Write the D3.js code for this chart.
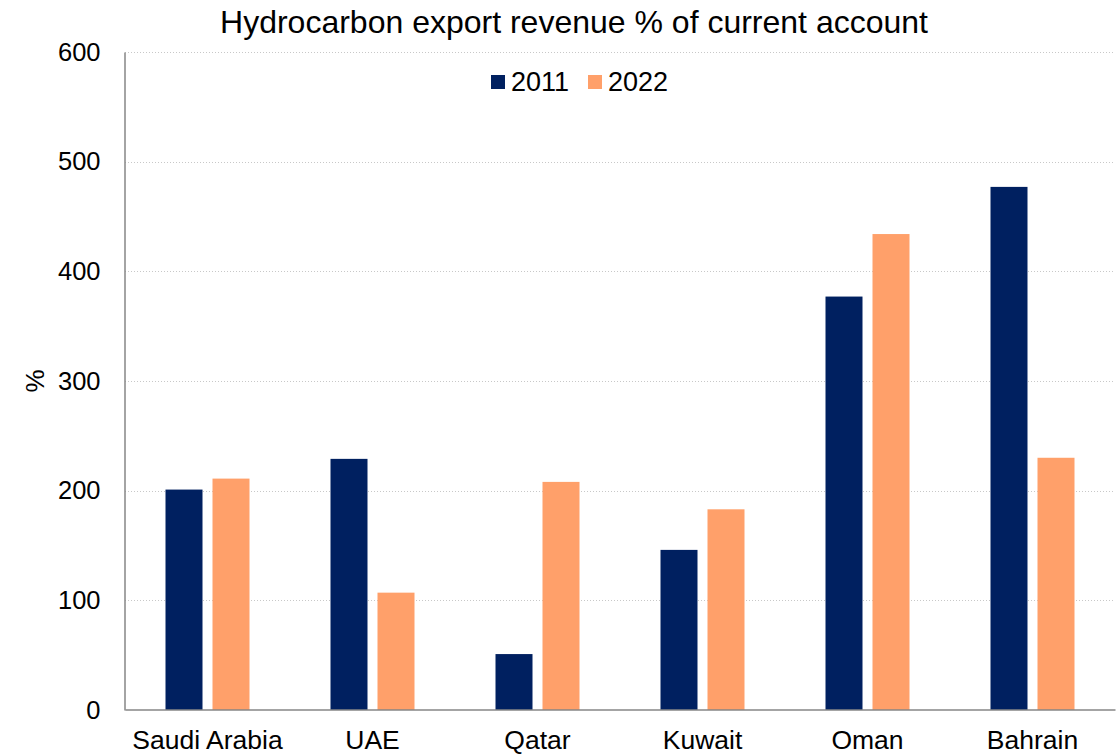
<!DOCTYPE html>
<html>
<head>
<meta charset="utf-8">
<script src="https://cdn.jsdelivr.net/npm/d3@7"></script>
<style>
  body { margin: 0; background: #fff; }
  svg { font-family: "Liberation Sans", Arial, sans-serif; }
</style>
</head>
<body>
<script>
const categories = ["Saudi Arabia", "UAE", "Qatar", "Kuwait", "Oman", "Bahrain"];
const seriesNames = ["2011", "2022"];
const values2011 = [201, 229, 51, 146, 377, 477];
const values2022 = [211, 107, 208, 183, 434, 230];
const yTicks = [0, 100, 200, 300, 400, 500, 600];
const colors = ["#002060", "#ffa06a"];

const width = 1119;
const height = 754;
const margin = { left: 125, right: 4, top: 52, bottom: 44 };

const svg = d3.select("body").append("svg").attr("width", width).attr("height", height);

// x: categories, then the two years inside each band
const xScale = d3.scaleBand()
  .domain(categories)
  .range([margin.left, width - margin.right]);

const yScale = d3.scaleLinear()
  .domain([0, 600])
  .range([height - margin.bottom, margin.top]);

const barWidth = 37;
const barGap = 10;
const xInner = d3.scaleOrdinal()
  .domain(seriesNames)
  .range([-barGap / 2 - barWidth, barGap / 2]);

// gridlines (dotted)
svg.append("g")
  .selectAll("line")
  .data(yTicks.filter(d => d > 0))
  .enter()
  .append("line")
  .attr("x1", margin.left)
  .attr("x2", width - margin.right)
  .attr("y1", d => Math.round(yScale(d)) + 0.5)
  .attr("y2", d => Math.round(yScale(d)) + 0.5)
  .attr("stroke", "#c8c8c8")
  .attr("stroke-dasharray", "1,2");

// bars
const rows = categories.map((c, i) => ({ cat: c, vals: [values2011[i], values2022[i]] }));
const groups = svg.append("g").selectAll("g")
  .data(rows)
  .enter()
  .append("g")
  .attr("transform", d => "translate(" + (xScale(d.cat) + xScale.bandwidth() / 2) + ",0)");

groups.selectAll("rect")
  .data(d => d.vals.map((v, k) => ({ key: seriesNames[k], v: v, k: k })))
  .enter()
  .append("rect")
  .attr("x", d => xInner(d.key))
  .attr("width", barWidth)
  .attr("y", d => yScale(d.v))
  .attr("height", d => yScale(0) - yScale(d.v))
  .attr("fill", d => colors[d.k]);

// y axis
const axisy = d3.axisLeft(yScale).tickValues(yTicks).tickSize(0).tickPadding(24);
const gy = svg.append("g")
  .attr("transform", "translate(" + (margin.left - 0.5) + ",0)")
  .call(axisy);
gy.select(".domain").attr("stroke", "#868686").attr("stroke-width", 1.5);
gy.selectAll("text").attr("font-size", 25.5).attr("fill", "#000").attr("font-family", "Liberation Sans, Arial, sans-serif");

// x axis
const axisx = d3.axisBottom(xScale).tickSize(0).tickPadding(21);
const gx = svg.append("g")
  .attr("transform", "translate(0," + (yScale(0) - 0.5) + ")")
  .call(axisx);
gx.select(".domain").attr("stroke", "#868686").attr("stroke-width", 1.5);
gx.selectAll("text").attr("font-size", 26.5).attr("fill", "#000").attr("font-family", "Liberation Sans, Arial, sans-serif");

// y label
svg.append("text")
  .attr("transform", "translate(44,381) rotate(-90)")
  .attr("text-anchor", "middle")
  .attr("font-size", 26)
  .text("%");

// title
svg.append("text")
  .attr("x", 574)
  .attr("y", 33)
  .attr("text-anchor", "middle")
  .attr("font-size", 32)
  .text("Hydrocarbon export revenue % of current account");

// legend
const legend = svg.append("g").attr("transform", "translate(491,75)");
const legendItems = legend.selectAll("g")
  .data(seriesNames)
  .enter()
  .append("g")
  .attr("transform", (d, i) => "translate(" + (i * 97) + ",0)");
legendItems.append("rect")
  .attr("width", 14)
  .attr("height", 14)
  .attr("fill", (d, i) => colors[i]);
legendItems.append("text")
  .attr("x", 20)
  .attr("y", 16)
  .attr("font-size", 27)
  .text(d => d);
</script>
</body>
</html>
